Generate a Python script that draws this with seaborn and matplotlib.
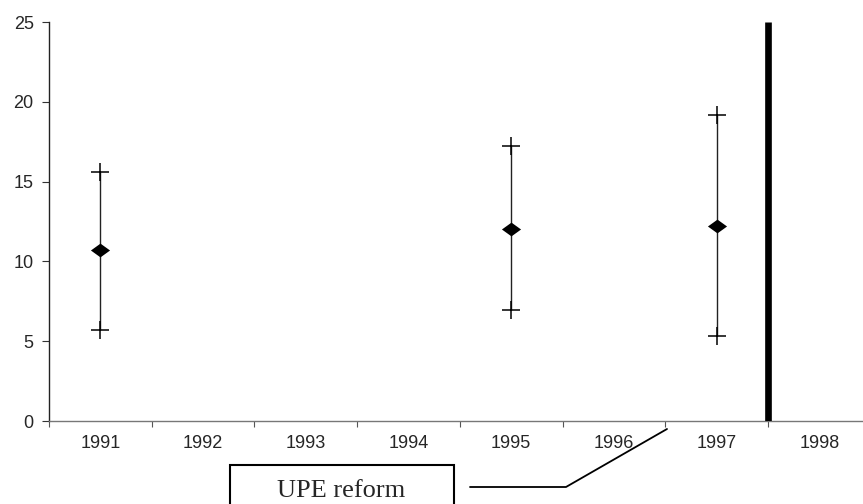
import numpy as np
import pandas as pd
import matplotlib
matplotlib.use('Agg')
import matplotlib.pyplot as plt
import seaborn as sns
from matplotlib.path import Path
from matplotlib.patches import Rectangle
from matplotlib.lines import Line2D

# chart data
years = [1991, 1992, 1993, 1994, 1995, 1996, 1997, 1998]
obs_years = [1991, 1995, 1997]
means = [10.7, 12.05, 12.2]
lower = [5.7, 6.95, 5.3]
upper = [15.6, 17.2, 19.15]
reform_after = 1997  # thick line sits between 1997 and 1998
y_ticks = [0, 5, 10, 15, 20, 25]

df = pd.DataFrame({'year': obs_years, 'mean': means, 'lo': lower, 'hi': upper})
df['pos'] = [years.index(y) for y in df['year']]

sns.set_style('white')
plt.rcParams['font.family'] = ['Liberation Sans', 'DejaVu Sans']

W, H = 863, 504
fig = plt.figure(figsize=(W / 100, H / 100), dpi=100)
ax = fig.add_axes([49 / W, 1 - 421 / H, (W - 49) / W, (421 - 22) / H])

# vertical ranges
ax.vlines(df['pos'], df['lo'], df['hi'], color='#222222', lw=1.0, zorder=2)

# end caps as plus markers
caps = pd.concat([df[['pos', 'lo']].rename(columns={'lo': 'v'}),
                  df[['pos', 'hi']].rename(columns={'hi': 'v'})])
sns.scatterplot(data=caps, x='pos', y='v', marker='+', s=170, color='black',
                linewidth=1.1, ax=ax, zorder=3)

# flattened diamond for the means
diamond = Path([(-1, 0), (0, 0.72), (1, 0), (0, -0.72), (-1, 0)],
               [Path.MOVETO, Path.LINETO, Path.LINETO, Path.LINETO, Path.CLOSEPOLY])
sns.scatterplot(data=df, x='pos', y='mean', marker=diamond, s=190, color='black',
                edgecolor='black', linewidth=0, ax=ax, zorder=4)

# reform line
ax.vlines(years.index(reform_after) + 0.5, 0, 25, color='black', lw=4.8, zorder=5)

ax.set_xlim(-0.5, -0.5 + (W - 49) / 102.7)
ax.set_ylim(0, 25)
ax.set_xticks(np.arange(len(years)) - 0.5)
ax.set_xticklabels([])
ax.set_xticks(np.arange(len(years)), minor=True)
ax.set_xticklabels([str(y) for y in years], minor=True)
ax.set_yticks(y_ticks)
ax.set_yticklabels([str(t) for t in y_ticks])
ax.tick_params(axis='x', which='major', direction='out', length=4, width=0.8,
               color='#555555', bottom=True)
ax.tick_params(axis='x', which='minor', length=0, pad=10, labelsize=13)
ax.tick_params(axis='y', direction='out', length=5, width=0.8, color='#333333',
               pad=6, labelsize=13, left=True)
ax.set_xlabel('')
ax.set_ylabel('')

for s in ['top', 'right']:
    ax.spines[s].set_visible(False)
ax.spines['left'].set_color('#222222')
ax.spines['left'].set_linewidth(1.0)
ax.spines['bottom'].set_color('#777777')
ax.spines['bottom'].set_linewidth(1.0)

# annotation box and connector (figure pixel coords)
def fx(x):
    return x / W

def fy(y):
    return 1 - y / H

fig.patches.append(Rectangle((fx(230), fy(520)), (454 - 230) / W, (520 - 465) / H,
                             transform=fig.transFigure, fill=False,
                             edgecolor='black', lw=1.5, clip_on=False))
fig.text(fx(341), fy(497), 'UPE reform', ha='center', va='baseline',
         fontsize=19, family=['Liberation Serif', 'DejaVu Serif'])
fig.lines.append(Line2D([fx(470), fx(566), fx(667)], [fy(487), fy(487), fy(429)],
                        transform=fig.transFigure, color='black', lw=1.3))

fig.savefig('out.png', dpi=100)
